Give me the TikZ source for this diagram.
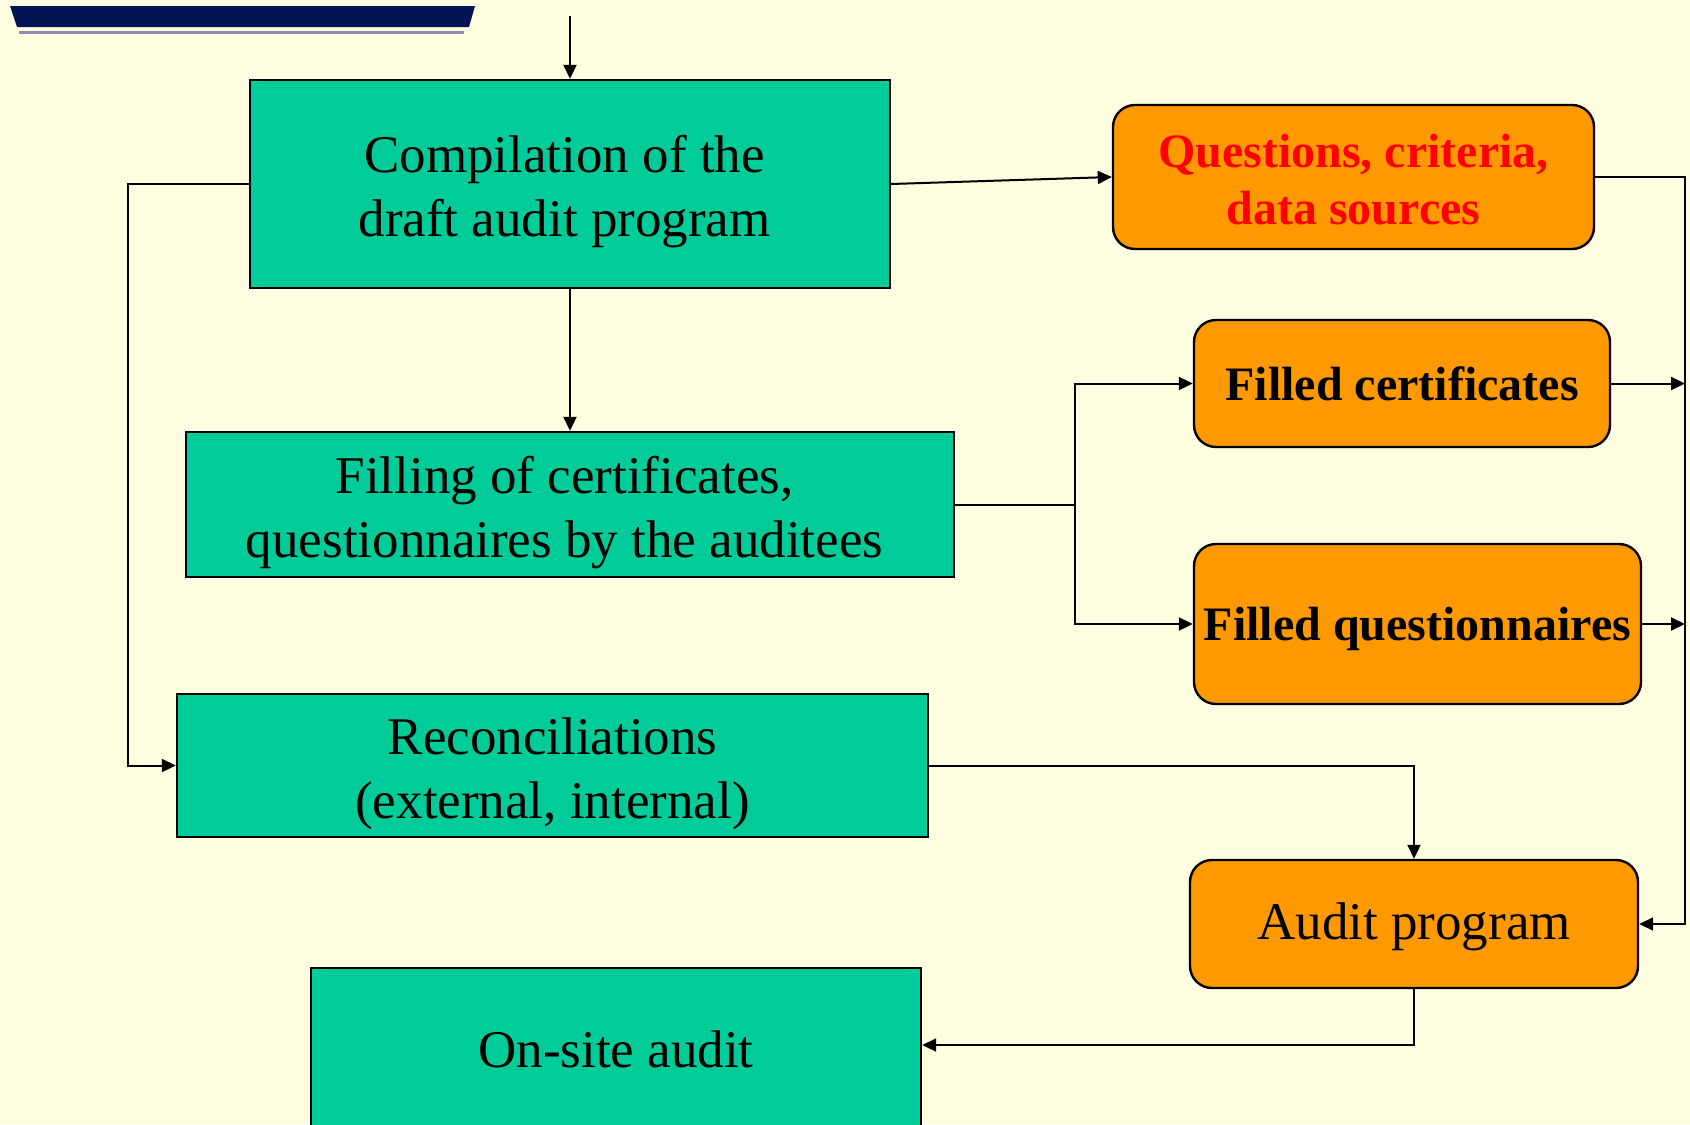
\documentclass[tikz,border=0pt]{standalone}
\usepackage{fontspec}
\setmainfont{Liberation Serif}
\usetikzlibrary{arrows.meta}
\definecolor{bg}{HTML}{FFFDDF}
\definecolor{grn}{HTML}{00CC99}
\definecolor{org}{HTML}{FF9900}
\definecolor{navy}{HTML}{041454}
\definecolor{lav}{HTML}{8C8CB4}
\newcommand{\upstrut}{\rule{0pt}{26.7pt}}
\newcommand{\lsh}{\hspace*{5.4pt}}
\begin{document}
\begin{tikzpicture}[x=0.5pt,y=-0.5pt,
  gbox/.style={draw=black, line width=1.2pt, fill=grn, inner sep=0pt, align=center,
    font=\fontsize{26.5}{32}\selectfont},
  obox/.style={draw=black, line width=1.2pt, fill=org, rounded corners=11pt, inner sep=0pt, align=center,
    font=\bfseries\fontsize{24}{28.5}\selectfont},
  conn/.style={line width=1pt, -{Triangle[length=7pt,width=6.5pt]}},
  plain/.style={line width=1pt}]
\fill[bg] (0,0) rectangle (1690,1124);
\useasboundingbox (0,0) rectangle (1690,1124);
\clip (0,0) rectangle (1690,1124);
% banner
\fill[navy] (10,6) -- (475,6) -- (469,27) -- (17,27) -- cycle;
\fill[lav] (19,31) rectangle (464,34);
% green boxes
\node[gbox, minimum width=320pt, minimum height=104pt] (b1) at (570,184) {\upstrut Compilation of the\lsh\\draft audit program\lsh};
\node[gbox, minimum width=384pt, minimum height=72.5pt] (b2) at (570,504.5) {\upstrut Filling of certificates,\lsh\\questionnaires by the auditees\lsh};
\node[gbox, minimum width=375.5pt, minimum height=71.5pt] (b3) at (552.5,765.5) {\upstrut Reconciliations\\(external, internal)};
\node[gbox, minimum width=305pt, minimum height=90pt, text depth=9pt] (b4) at (616,1058) {On-site audit};
% orange boxes
\node[obox, minimum width=240.5pt, minimum height=72pt, text=red] (o1) at (1353.5,177) {\rule{0pt}{19pt}Questions, criteria,\\data sources};
\node[obox, minimum width=208pt, minimum height=63.5pt] (o2) at (1402,383.5) {Filled certificates};
\node[obox, minimum width=223.5pt, minimum height=80pt, text depth=0pt] (o3) at (1417.5,624) {Filled questionnaires};
\node[obox, minimum width=224pt, minimum height=64pt, text depth=3pt, font=\fontsize{26.5}{32.5}\selectfont] (o4) at (1414,924) {Audit program};
% connectors
\coordinate (top) at (570,16);
\coordinate (lx) at (128,0);
\coordinate (split) at (1075,504.5);
\coordinate (rx) at (1685,0);
\draw[conn] (top) -- (b1.north);
\draw[conn] (b1.east) -- (o1.west);
\draw[conn] (b1.west) -| (lx |- b3.west) -- (b3.west);
\draw[conn] (b1.south) -- (b2.north);
\draw[plain] (b2.east) -- (split);
\draw[conn] (split) |- (o2.west);
\draw[conn] (split) |- (o3.west);
\draw[conn] (o1.east) -| (rx |- o4.east) -- (o4.east);
\draw[conn] (o2.east) -- (rx |- o2.east);
\draw[conn] (o3.east) -- (rx |- o3.east);
\draw[conn] (b3.east) -| (o4.north);
\draw[conn] (o4.south) |- ([yshift=6.5pt]b4.east);
\end{tikzpicture}
\end{document}
